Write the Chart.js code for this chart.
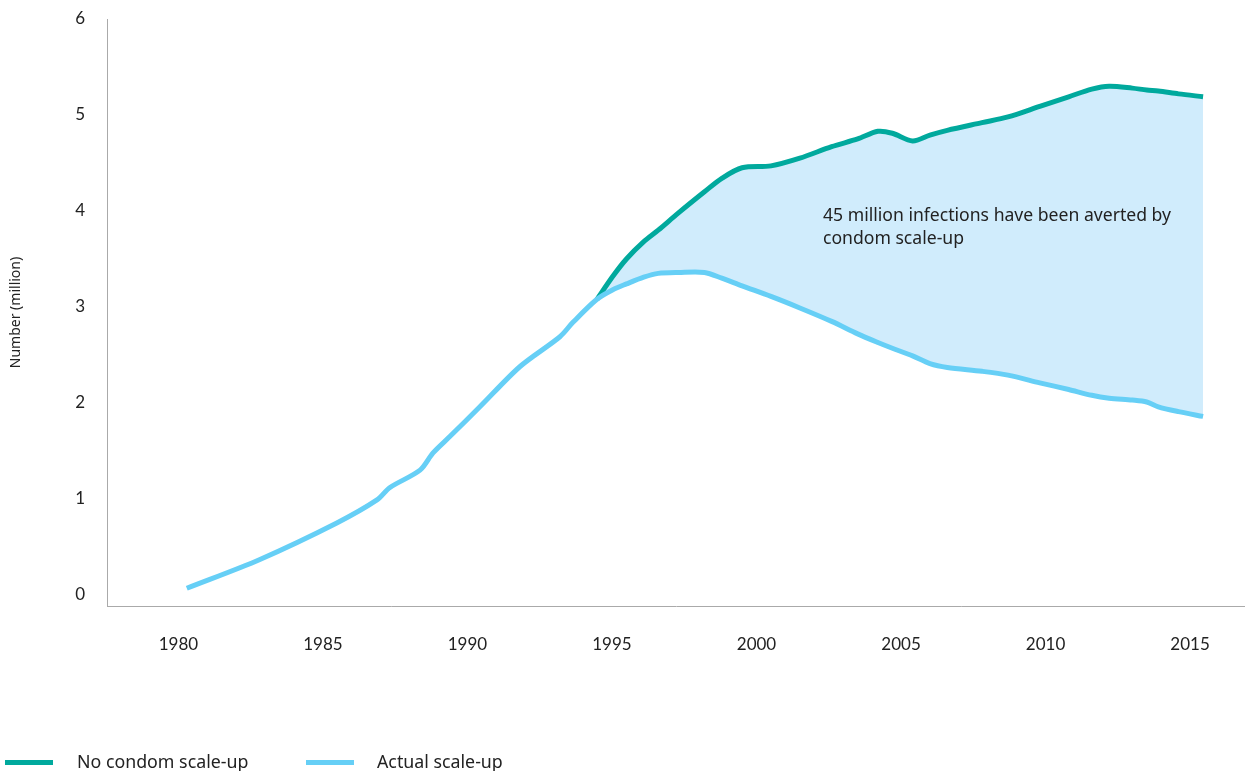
<!DOCTYPE html>
<html>
<head>
<meta charset="utf-8">
<script src="https://cdn.jsdelivr.net/npm/chart.js@4/dist/chart.umd.min.js"></script>
<style>
  body { margin: 0; background: #fff; font-family: "Noto Sans", Lato, sans-serif; }
  #wrap { position: relative; width: 1245px; height: 771px; }
  .legend { position: absolute; top: 749px; left: 0; font-size: 17.8px; color: #222; }
  .item { position: absolute; white-space: nowrap; line-height: 24px; }
  .swatch { position: absolute; top: 11px; width: 48px; height: 5px; }
</style>
</head>
<body>
<div id="wrap">
  <canvas id="chart" width="1245" height="771"></canvas>
  <div class="legend">
    <div class="item" style="left:5px"><span class="swatch" style="left:0;background:#00a99d"></span><span style="margin-left:72px">No condom scale-up</span></div>
    <div class="item" style="left:306px"><span class="swatch" style="left:0;background:#66cff6"></span><span style="margin-left:71px">Actual scale-up</span></div>
  </div>
</div>
<script>
// Condom scale-up: new infections (million)
const years = [1980.29, 1982.82, 1985.48, 1986.87, 1987.32, 1988.36, 1988.81, 1989.39, 1990.43, 1991.82,
  1993.2, 1993.65, 1994.48, 1995.03, 1995.5, 1996.1, 1996.6, 1997.3, 1998.2, 1998.8,
  1999.5, 2000.5, 2001.5, 2002.6, 2003.5, 2004.2, 2004.7, 2005.4, 2006.0, 2006.6,
  2007.8, 2008.7, 2009.8, 2010.8, 2011.6, 2012.2, 2013.0, 2013.5, 2013.9, 2014.6, 2015.45];

const actualScaleUp = [0.07, 0.37, 0.75, 0.99, 1.12, 1.30, 1.48, 1.65, 1.96, 2.38,
  2.69, 2.84, 3.08, 3.18, 3.24, 3.31, 3.35, 3.36, 3.36, 3.30,
  3.22, 3.11, 2.99, 2.85, 2.72, 2.63, 2.57, 2.49, 2.41, 2.37,
  2.33, 2.29, 2.21, 2.14, 2.08, 2.05, 2.03, 2.01, 1.96, 1.91, 1.86];

const noCondomScaleUp = [null, null, null, null, null, null, null, null, null, null,
  null, null, 3.08, 3.32, 3.50, 3.68, 3.80, 3.98, 4.20, 4.34,
  4.45, 4.47, 4.55, 4.67, 4.75, 4.83, 4.81, 4.73, 4.79, 4.84,
  4.92, 4.98, 5.09, 5.19, 5.27, 5.30, 5.28, 5.26, 5.25, 5.22, 5.19];

const xTicks = [1980, 1985, 1990, 1995, 2000, 2005, 2010, 2015];
const yTicks = [0, 1, 2, 3, 4, 5, 6];

const noteLines = ['45 million infections have been averted by', 'condom scale-up'];
const notePos = { x: 2002.3, y: 3.95 };

const toPoints = vals => years.map((x, i) => ({ x: x, y: vals[i] }));

// text inside the shaded area
const notePlugin = {
    id: 'note',
    afterDatasetsDraw(chart) {
        const ctx = chart.ctx;
        const x = chart.scales.x.getPixelForValue(notePos.x);
        const y = chart.scales.y.getPixelForValue(notePos.y);
        ctx.save();
        ctx.font = '17.6px "Noto Sans", Lato, sans-serif';
        ctx.fillStyle = '#222';
        ctx.textAlign = 'left';
        ctx.textBaseline = 'middle';
        noteLines.forEach((line, i) => ctx.fillText(line, x, y + i * 23));
        ctx.restore();
    }
};

const tickFont = { family: 'Lato, "Noto Sans", sans-serif', size: 17 };

new Chart(document.getElementById('chart'), {
    type: 'line',
    data: {
        datasets: [{
            label: 'No condom scale-up',
            data: toPoints(noCondomScaleUp),
            borderColor: '#00a99d',
            backgroundColor: '#d0ecfc',
            borderWidth: 5,
            pointRadius: 0,
            tension: 0.3,
            fill: { target: 1 },
            order: 2
        }, {
            label: 'Actual scale-up',
            data: toPoints(actualScaleUp),
            borderColor: '#66cff6',
            borderWidth: 5,
            pointRadius: 0,
            tension: 0.3,
            fill: false,
            order: 1
        }]
    },
    options: {
        responsive: false,
        animation: false,
        layout: { padding: { top: 19, right: 0, bottom: 0, left: 0 } },
        plugins: {
            legend: { display: false },
            tooltip: { enabled: false }
        },
        scales: {
            x: {
                type: 'linear',
                min: 1977.53,
                max: 2016.9,
                afterFit: s => { s.height = 165; s.paddingLeft = 0; s.paddingRight = 0; },
                afterBuildTicks: s => { s.ticks = xTicks.map(v => ({ value: v })); },
                grid: { display: false, drawTicks: false },
                border: { display: true, color: '#aaa', width: 1 },
                ticks: {
                    padding: 28,
                    color: '#222',
                    font: tickFont,
                    maxRotation: 0,
                    autoSkip: false,
                    callback: v => String(v)
                }
            },
            y: {
                min: -0.115,
                max: 6,
                afterFit: s => { s.width = 107; s.paddingTop = 0; s.paddingBottom = 0; },
                afterBuildTicks: s => { s.ticks = yTicks.map(v => ({ value: v })); },
                grid: { display: false, drawTicks: false },
                border: { display: true, color: '#aaa', width: 1 },
                ticks: {
                    padding: 22,
                    color: '#222',
                    font: tickFont,
                    callback: v => String(v)
                },
                title: {
                    display: true,
                    text: 'Number (million)',
                    color: '#222',
                    font: { family: '"Noto Sans", Lato, sans-serif', size: 14 },
                    padding: { top: 8, bottom: 0 }
                }
            }
        }
    },
    plugins: [notePlugin]
});
</script>
</body>
</html>
